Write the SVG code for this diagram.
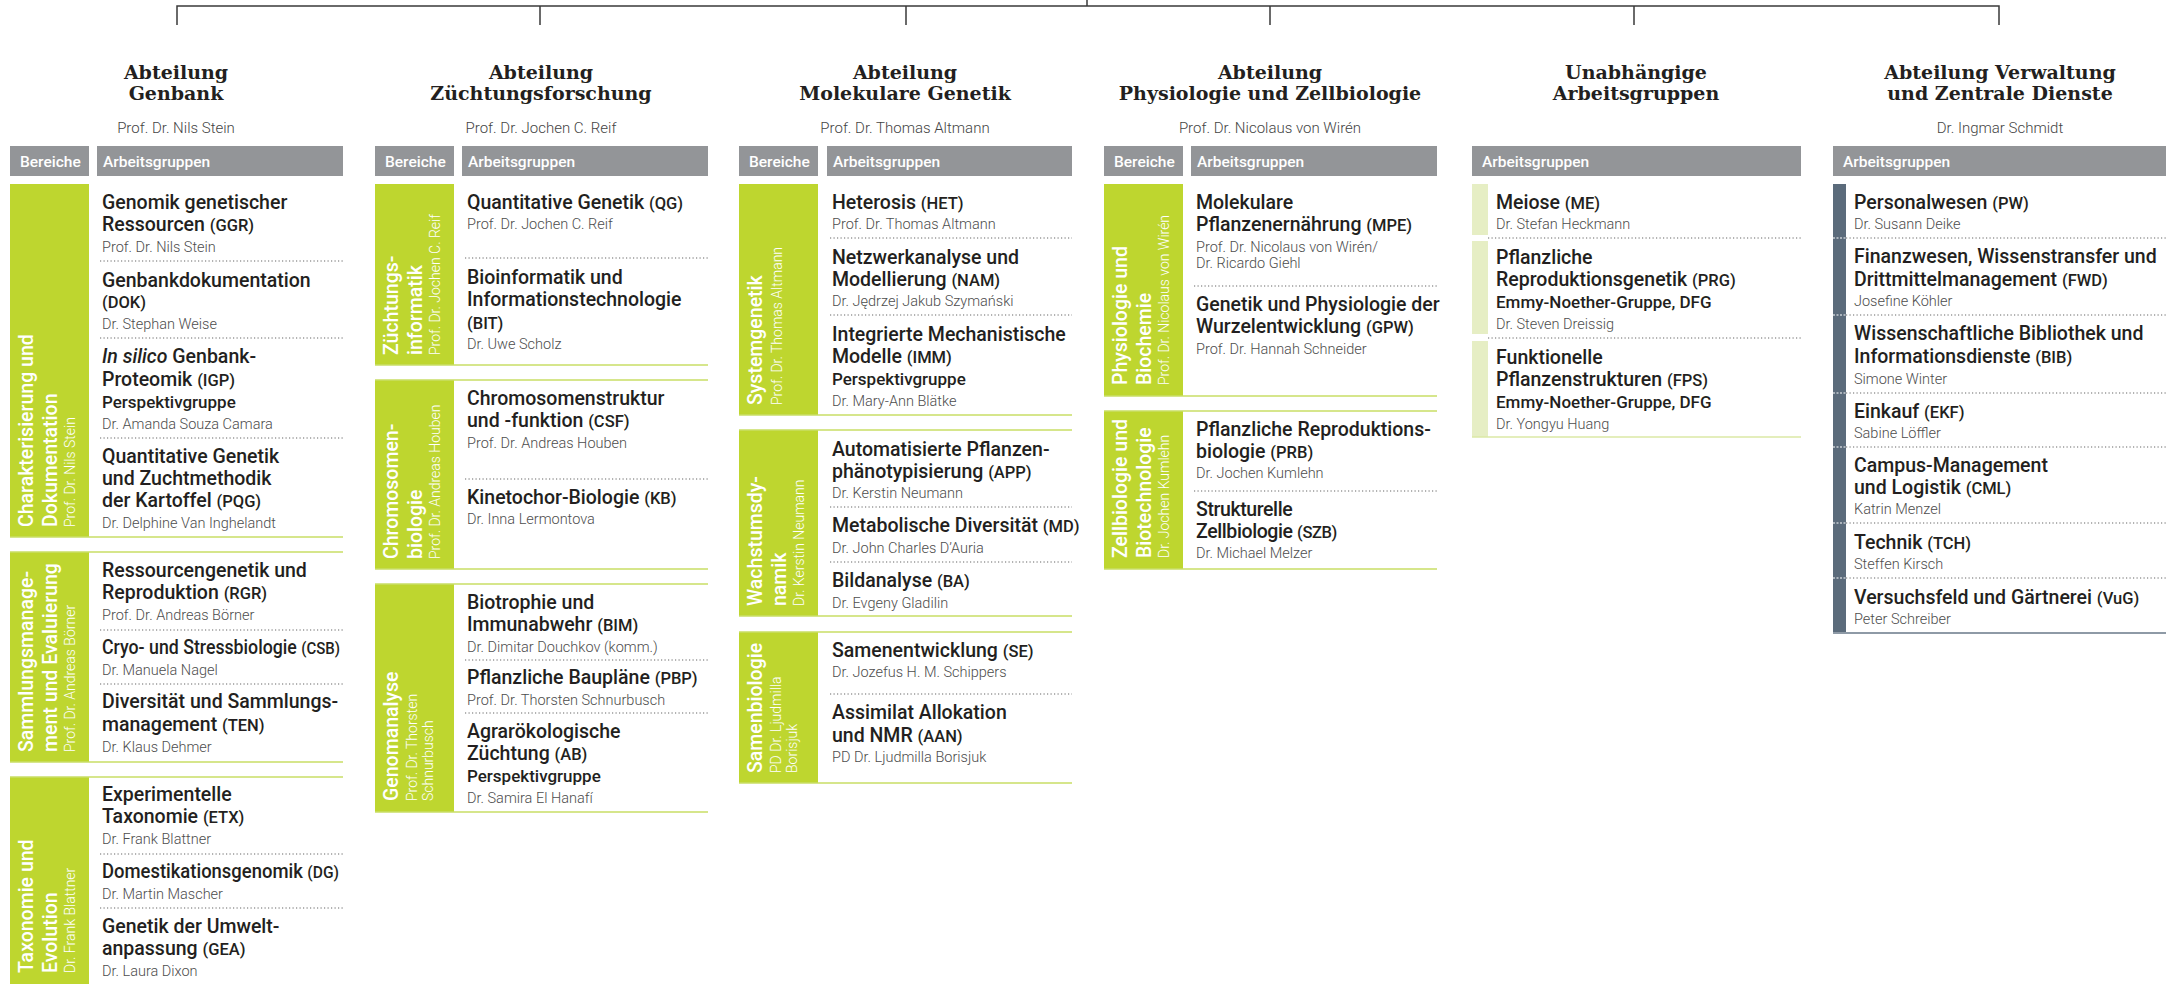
<svg xmlns="http://www.w3.org/2000/svg" width="2166" height="984" viewBox="0 0 2166 984">
<style>
.hd{font-family:"DejaVu Serif","Liberation Serif",serif;font-weight:bold;font-size:19px;fill:#231f20;text-anchor:middle}
.sub{font-family:Roboto,"Liberation Sans",sans-serif;font-weight:300;font-size:15px;fill:#444;text-anchor:middle}
.hb{fill:#939598}
.ht{font-family:Roboto,"Liberation Sans",sans-serif;font-weight:500;font-size:15.5px;fill:#fff}
.t{font-family:Roboto,"Liberation Sans",sans-serif;font-weight:500;font-size:19.5px;fill:#231f20}
.ab{font-size:16.5px}
.p{font-family:Roboto,"Liberation Sans",sans-serif;font-weight:500;font-size:17px;fill:#231f20}
.n{font-family:Roboto,"Liberation Sans",sans-serif;font-weight:300;font-size:14.5px;fill:#4d4d4d}
.gb{fill:#bed62f}
.gl{stroke:#c9de66;stroke-width:1.5;fill:none}
.dot{stroke:#666;stroke-width:1.2;stroke-dasharray:1.2 2.3;fill:none}
.vt{font-family:Roboto,"Liberation Sans",sans-serif;font-weight:500;font-size:19.5px;fill:#fff}
.vn{font-family:Roboto,"Liberation Sans",sans-serif;font-weight:300;font-size:14px;fill:#fff}
.con{stroke:#3a3a3a;stroke-width:1.5;fill:none}
</style>

<g id="connectors">
<path class="con" d="M1087 0V6M177 25V6H1999V25M540 6V25M906 6V25M1270 6V25M1634 6V25"/>
</g>

<!-- Column 1 -->
<g id="col-genbank">
<text class="hd" x="176" y="79">Abteilung</text>
<text class="hd" x="176" y="100">Genbank</text>
<text class="sub" x="176" y="133">Prof. Dr. Nils Stein</text>
<rect class="hb" x="10" y="146" width="79" height="30"/>
<rect class="hb" x="97" y="146" width="246" height="30"/>
<text class="ht" x="20" y="167">Bereiche</text>
<text class="ht" x="103" y="167">Arbeitsgruppen</text>
<g id="c1b1">
<rect class="gb" x="10" y="184" width="79" height="353"/>
<path class="gl" d="M10 537H343"/>
<g transform="translate(10,527) rotate(-90)"><text class="vt" y="23">Charakterisierung und</text><text class="vt" y="46.5">Dokumentation</text><text class="vn" y="65">Prof. Dr. Nils Stein</text></g>
<text class="t" x="102" y="209">Genomik genetischer</text>
<text class="t" x="102" y="231">Ressourcen <tspan class="ab">(GGR)</tspan></text>
<text class="n" x="102" y="252">Prof. Dr. Nils Stein</text>
<path class="dot" d="M100 261H343"/>
<text class="t" x="102" y="287">Genbankdokumentation</text>
<text class="t" x="102" y="308"><tspan class="ab">(DOK)</tspan></text>
<text class="n" x="102" y="329">Dr. Stephan Weise</text>
<path class="dot" d="M100 338H343"/>
<text class="t" x="102" y="363"><tspan font-style="italic">In silico</tspan> Genbank-</text>
<text class="t" x="102" y="386">Proteomik <tspan class="ab">(IGP)</tspan></text>
<text class="p" x="102" y="408">Perspektivgruppe</text>
<text class="n" x="102" y="429">Dr. Amanda Souza Camara</text>
<path class="dot" d="M100 438H343"/>
<text class="t" x="102" y="463">Quantitative Genetik</text>
<text class="t" x="102" y="485">und Zuchtmethodik</text>
<text class="t" x="102" y="507">der Kartoffel <tspan class="ab">(PQG)</tspan></text>
<text class="n" x="102" y="528">Dr. Delphine Van Inghelandt</text>
</g>
<g id="c1b2">
<rect class="gb" x="10" y="552" width="79" height="210"/>
<path class="gl" d="M10 552H343M10 762H343"/>
<g transform="translate(10,752) rotate(-90)"><text class="vt" y="23">Sammlungsmanage-</text><text class="vt" y="46.5">ment und Evaluierung</text><text class="vn" y="65">Prof. Dr. Andreas Börner</text></g>
<text class="t" x="102" y="577">Ressourcengenetik und</text>
<text class="t" x="102" y="599">Reproduktion <tspan class="ab">(RGR)</tspan></text>
<text class="n" x="102" y="620">Prof. Dr. Andreas Börner</text>
<path class="dot" d="M100 630H343"/>
<text class="t" x="102" y="654" textLength="238" lengthAdjust="spacingAndGlyphs">Cryo- und Stressbiologie <tspan class="ab">(CSB)</tspan></text>
<text class="n" x="102" y="675">Dr. Manuela Nagel</text>
<path class="dot" d="M100 684H343"/>
<text class="t" x="102" y="708">Diversität und Sammlungs-</text>
<text class="t" x="102" y="731">management <tspan class="ab">(TEN)</tspan></text>
<text class="n" x="102" y="752">Dr. Klaus Dehmer</text>
</g>
<g id="c1b3">
<rect class="gb" x="10" y="777" width="79" height="215"/>
<path class="gl" d="M10 777H343"/>
<g transform="translate(10,973) rotate(-90)"><text class="vt" y="23">Taxonomie und</text><text class="vt" y="46.5">Evolution</text><text class="vn" y="65">Dr. Frank Blattner</text></g>
<text class="t" x="102" y="801">Experimentelle</text>
<text class="t" x="102" y="823">Taxonomie <tspan class="ab">(ETX)</tspan></text>
<text class="n" x="102" y="844">Dr. Frank Blattner</text>
<path class="dot" d="M100 854H343"/>
<text class="t" x="102" y="878" textLength="237" lengthAdjust="spacingAndGlyphs">Domestikationsgenomik <tspan class="ab">(DG)</tspan></text>
<text class="n" x="102" y="899">Dr. Martin Mascher</text>
<path class="dot" d="M100 908H343"/>
<text class="t" x="102" y="933">Genetik der Umwelt-</text>
<text class="t" x="102" y="955">anpassung <tspan class="ab">(GEA)</tspan></text>
<text class="n" x="102" y="976">Dr. Laura Dixon</text>
</g>
</g>

<!-- Column 2 -->
<g id="col-zuechtung">
<text class="hd" x="541" y="79">Abteilung</text>
<text class="hd" x="541" y="100">Züchtungsforschung</text>
<text class="sub" x="541" y="133">Prof. Dr. Jochen C. Reif</text>
<rect class="hb" x="375" y="146" width="79" height="30"/>
<rect class="hb" x="462" y="146" width="246" height="30"/>
<text class="ht" x="385" y="167">Bereiche</text>
<text class="ht" x="468" y="167">Arbeitsgruppen</text>
<g id="c2b1">
<rect class="gb" x="375" y="184" width="79" height="181"/>
<path class="gl" d="M375 365H708"/>
<g transform="translate(375,355) rotate(-90)"><text class="vt" y="23">Züchtungs-</text><text class="vt" y="46.5">informatik</text><text class="vn" y="65">Prof. Dr. Jochen C. Reif</text></g>
<text class="t" x="467" y="209">Quantitative Genetik <tspan class="ab">(QG)</tspan></text>
<text class="n" x="467" y="229">Prof. Dr. Jochen C. Reif</text>
<path class="dot" d="M465 258H708"/>
<text class="t" x="467" y="284">Bioinformatik und</text>
<text class="t" x="467" y="306">Informationstechnologie</text>
<text class="t" x="467" y="329"><tspan class="ab">(BIT)</tspan></text>
<text class="n" x="467" y="349">Dr. Uwe Scholz</text>
</g>
<g id="c2b2">
<rect class="gb" x="375" y="380" width="79" height="189"/>
<path class="gl" d="M375 380H708M375 569H708"/>
<g transform="translate(375,559) rotate(-90)"><text class="vt" y="23">Chromosomen-</text><text class="vt" y="46.5">biologie</text><text class="vn" y="65">Prof. Dr. Andreas Houben</text></g>
<text class="t" x="467" y="405">Chromosomenstruktur</text>
<text class="t" x="467" y="427">und -funktion <tspan class="ab">(CSF)</tspan></text>
<text class="n" x="467" y="448">Prof. Dr. Andreas Houben</text>
<path class="dot" d="M465 479H708"/>
<text class="t" x="467" y="504">Kinetochor-Biologie <tspan class="ab">(KB)</tspan></text>
<text class="n" x="467" y="524">Dr. Inna Lermontova</text>
</g>
<g id="c2b3">
<rect class="gb" x="375" y="584" width="79" height="228"/>
<path class="gl" d="M375 584H708M375 812H708"/>
<g transform="translate(375,801) rotate(-90)"><text class="vt" y="23">Genomanalyse</text><text class="vn" y="42">Prof. Dr. Thorsten</text><text class="vn" y="58">Schnurbusch</text></g>
<text class="t" x="467" y="609">Biotrophie und</text>
<text class="t" x="467" y="631">Immunabwehr <tspan class="ab">(BIM)</tspan></text>
<text class="n" x="467" y="652">Dr. Dimitar Douchkov (komm.)</text>
<path class="dot" d="M465 660H708"/>
<text class="t" x="467" y="684">Pflanzliche Baupläne <tspan class="ab">(PBP)</tspan></text>
<text class="n" x="467" y="705">Prof. Dr. Thorsten Schnurbusch</text>
<path class="dot" d="M465 713H708"/>
<text class="t" x="467" y="738">Agrarökologische</text>
<text class="t" x="467" y="760">Züchtung <tspan class="ab">(AB)</tspan></text>
<text class="p" x="467" y="782">Perspektivgruppe</text>
<text class="n" x="467" y="803">Dr. Samira El Hanafí</text>
</g>
</g>

<!-- Column 3 -->
<g id="col-molgen">
<text class="hd" x="905" y="79">Abteilung</text>
<text class="hd" x="905" y="100">Molekulare Genetik</text>
<text class="sub" x="905" y="133">Prof. Dr. Thomas Altmann</text>
<rect class="hb" x="739" y="146" width="79" height="30"/>
<rect class="hb" x="827" y="146" width="245" height="30"/>
<text class="ht" x="749" y="167">Bereiche</text>
<text class="ht" x="833" y="167">Arbeitsgruppen</text>
<g id="c3b1">
<rect class="gb" x="739" y="184" width="79" height="231"/>
<path class="gl" d="M739 415H1072"/>
<g transform="translate(739,405) rotate(-90)"><text class="vt" y="23">Systemgenetik</text><text class="vn" y="43">Prof. Dr. Thomas Altmann</text></g>
<text class="t" x="832" y="209">Heterosis <tspan class="ab">(HET)</tspan></text>
<text class="n" x="832" y="229">Prof. Dr. Thomas Altmann</text>
<path class="dot" d="M830 238H1072"/>
<text class="t" x="832" y="264">Netzwerkanalyse und</text>
<text class="t" x="832" y="286">Modellierung <tspan class="ab">(NAM)</tspan></text>
<text class="n" x="832" y="306">Dr. Jędrzej Jakub Szymański</text>
<path class="dot" d="M830 315H1072"/>
<text class="t" x="832" y="341">Integrierte Mechanistische</text>
<text class="t" x="832" y="363">Modelle <tspan class="ab">(IMM)</tspan></text>
<text class="p" x="832" y="385">Perspektivgruppe</text>
<text class="n" x="832" y="406">Dr. Mary-Ann Blätke</text>
</g>
<g id="c3b2">
<rect class="gb" x="739" y="430" width="79" height="186"/>
<path class="gl" d="M739 430H1072M739 616H1072"/>
<g transform="translate(739,606) rotate(-90)"><text class="vt" y="23">Wachstumsdy-</text><text class="vt" y="46.5">namik</text><text class="vn" y="65">Dr. Kerstin Neumann</text></g>
<text class="t" x="832" y="456">Automatisierte Pflanzen-</text>
<text class="t" x="832" y="478">phänotypisierung <tspan class="ab">(APP)</tspan></text>
<text class="n" x="832" y="498">Dr. Kerstin Neumann</text>
<path class="dot" d="M830 507H1072"/>
<text class="t" x="832" y="532">Metabolische Diversität <tspan class="ab">(MD)</tspan></text>
<text class="n" x="832" y="553">Dr. John Charles D’Auria</text>
<path class="dot" d="M830 562H1072"/>
<text class="t" x="832" y="587">Bildanalyse <tspan class="ab">(BA)</tspan></text>
<text class="n" x="832" y="608">Dr. Evgeny Gladilin</text>
</g>
<g id="c3b3">
<rect class="gb" x="739" y="632" width="79" height="151"/>
<path class="gl" d="M739 632H1072M739 783H1072"/>
<g transform="translate(739,773) rotate(-90)"><text class="vt" y="23">Samenbiologie</text><text class="vn" y="42">PD Dr. Ljudmilla</text><text class="vn" y="58">Borisjuk</text></g>
<text class="t" x="832" y="657">Samenentwicklung <tspan class="ab">(SE)</tspan></text>
<text class="n" x="832" y="677">Dr. Jozefus H. M. Schippers</text>
<path class="dot" d="M830 694H1072"/>
<text class="t" x="832" y="719">Assimilat Allokation</text>
<text class="t" x="832" y="742">und NMR <tspan class="ab">(AAN)</tspan></text>
<text class="n" x="832" y="762">PD Dr. Ljudmilla Borisjuk</text>
</g>
</g>

<!-- Column 4 -->
<g id="col-physio">
<text class="hd" x="1270" y="79">Abteilung</text>
<text class="hd" x="1270" y="100">Physiologie und Zellbiologie</text>
<text class="sub" x="1270" y="133">Prof. Dr. Nicolaus von Wirén</text>
<rect class="hb" x="1104" y="146" width="79" height="30"/>
<rect class="hb" x="1191" y="146" width="246" height="30"/>
<text class="ht" x="1114" y="167">Bereiche</text>
<text class="ht" x="1197" y="167">Arbeitsgruppen</text>
<g id="c4b1">
<rect class="gb" x="1104" y="184" width="79" height="212"/>
<path class="gl" d="M1104 396H1437"/>
<g transform="translate(1104,385) rotate(-90)"><text class="vt" y="23">Physiologie und</text><text class="vt" y="46.5">Biochemie</text><text class="vn" y="65">Prof. Dr. Nicolaus von Wirén</text></g>
<text class="t" x="1196" y="209">Molekulare</text>
<text class="t" x="1196" y="231">Pflanzenernährung <tspan class="ab">(MPE)</tspan></text>
<text class="n" x="1196" y="252">Prof. Dr. Nicolaus von Wirén/</text>
<text class="n" x="1196" y="268">Dr. Ricardo Giehl</text>
<path class="dot" d="M1194 286H1437"/>
<text class="t" x="1196" y="311">Genetik und Physiologie der</text>
<text class="t" x="1196" y="333">Wurzelentwicklung <tspan class="ab">(GPW)</tspan></text>
<text class="n" x="1196" y="354">Prof. Dr. Hannah Schneider</text>
</g>
<g id="c4b2">
<rect class="gb" x="1104" y="411" width="79" height="158"/>
<path class="gl" d="M1104 411H1437M1104 569H1437"/>
<g transform="translate(1104,558) rotate(-90)"><text class="vt" y="23">Zellbiologie und</text><text class="vt" y="46.5">Biotechnologie</text><text class="vn" y="65">Dr. Jochen Kumlehn</text></g>
<text class="t" x="1196" y="436">Pflanzliche Reproduktions-</text>
<text class="t" x="1196" y="458">biologie <tspan class="ab">(PRB)</tspan></text>
<text class="n" x="1196" y="478">Dr. Jochen Kumlehn</text>
<path class="dot" d="M1194 491H1437"/>
<text class="t" x="1196" y="516" letter-spacing="-0.4">Strukturelle</text>
<text class="t" x="1196" y="538" letter-spacing="-0.4">Zellbiologie <tspan class="ab">(SZB)</tspan></text>
<text class="n" x="1196" y="558">Dr. Michael Melzer</text>
</g>
</g>

<!-- Column 5 -->
<g id="col-unabh">
<text class="hd" x="1636" y="79">Unabhängige</text>
<text class="hd" x="1636" y="100">Arbeitsgruppen</text>
<rect class="hb" x="1472" y="146" width="329" height="30"/>
<text class="ht" x="1482" y="167">Arbeitsgruppen</text>
<rect x="1472" y="184" width="16" height="51" fill="#e6eec4"/>
<rect x="1472" y="241" width="16" height="93" fill="#e6eec4"/>
<rect x="1472" y="341" width="16" height="96" fill="#e6eec4"/>
<path d="M1472 437H1801" stroke="#dbe8a6" stroke-width="1.5"/>
<g id="c5-me">
<text class="t" x="1496" y="209">Meiose <tspan class="ab">(ME)</tspan></text>
<text class="n" x="1496" y="229">Dr. Stefan Heckmann</text>
</g>
<path class="dot" d="M1488 238H1801"/>
<g id="c5-prg">
<text class="t" x="1496" y="264">Pflanzliche</text>
<text class="t" x="1496" y="286">Reproduktionsgenetik <tspan class="ab">(PRG)</tspan></text>
<text class="p" x="1496" y="308">Emmy-Noether-Gruppe, DFG</text>
<text class="n" x="1496" y="329">Dr. Steven Dreissig</text>
</g>
<path class="dot" d="M1488 338H1801"/>
<g id="c5-fps">
<text class="t" x="1496" y="364">Funktionelle</text>
<text class="t" x="1496" y="386">Pflanzenstrukturen <tspan class="ab">(FPS)</tspan></text>
<text class="p" x="1496" y="408">Emmy-Noether-Gruppe, DFG</text>
<text class="n" x="1496" y="429">Dr. Yongyu Huang</text>
</g>
</g>

<!-- Column 6 -->
<g id="col-verwaltung">
<text class="hd" x="2000" y="79">Abteilung Verwaltung</text>
<text class="hd" x="2000" y="100">und Zentrale Dienste</text>
<text class="sub" x="2000" y="133">Dr. Ingmar Schmidt</text>
<rect class="hb" x="1833" y="146" width="333" height="30"/>
<text class="ht" x="1843" y="167">Arbeitsgruppen</text>
<rect x="1833" y="184" width="13" height="449" fill="#5b6b7b"/>
<path d="M1833 633H2166" stroke="#8e9aa6" stroke-width="2"/>
<path class="dot" d="M1846 238H2166M1846 315H2166M1846 393H2166M1846 447H2166M1846 523H2166M1846 578H2166"/>
<path d="M1833 238H1846M1833 315H1846M1833 393H1846M1833 447H1846M1833 523H1846M1833 578H1846" stroke="#fff" stroke-width="1.2" stroke-dasharray="2 1.5"/>
<g id="c6-pw"><text class="t" x="1854" y="209">Personalwesen <tspan class="ab">(PW)</tspan></text><text class="n" x="1854" y="229">Dr. Susann Deike</text></g>
<g id="c6-fwd"><text class="t" x="1854" y="263">Finanzwesen, Wissenstransfer und</text><text class="t" x="1854" y="286">Drittmittelmanagement <tspan class="ab">(FWD)</tspan></text><text class="n" x="1854" y="306">Josefine Köhler</text></g>
<g id="c6-bib"><text class="t" x="1854" y="340">Wissenschaftliche Bibliothek und</text><text class="t" x="1854" y="363">Informationsdienste <tspan class="ab">(BIB)</tspan></text><text class="n" x="1854" y="384">Simone Winter</text></g>
<g id="c6-ekf"><text class="t" x="1854" y="418">Einkauf <tspan class="ab">(EKF)</tspan></text><text class="n" x="1854" y="438">Sabine Löffler</text></g>
<g id="c6-cml"><text class="t" x="1854" y="472">Campus-Management</text><text class="t" x="1854" y="494">und Logistik <tspan class="ab">(CML)</tspan></text><text class="n" x="1854" y="514">Katrin Menzel</text></g>
<g id="c6-tch"><text class="t" x="1854" y="549">Technik <tspan class="ab">(TCH)</tspan></text><text class="n" x="1854" y="569">Steffen Kirsch</text></g>
<g id="c6-vug"><text class="t" x="1854" y="604">Versuchsfeld und Gärtnerei <tspan class="ab">(VuG)</tspan></text><text class="n" x="1854" y="624">Peter Schreiber</text></g>
</g>
</svg>
